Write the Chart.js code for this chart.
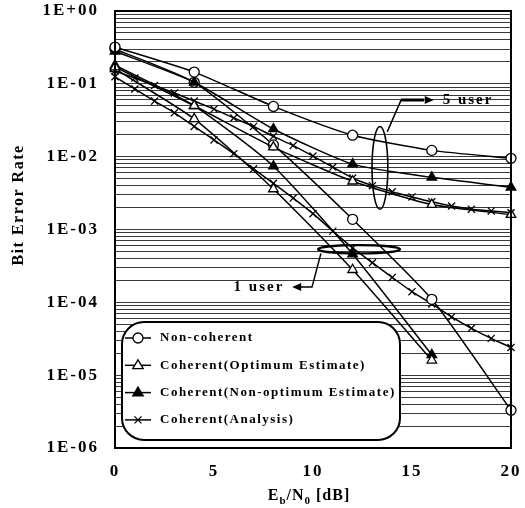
<!DOCTYPE html>
<html>
<head>
<meta charset="utf-8">
<script src="https://cdn.jsdelivr.net/npm/chart.js@4.4.0/dist/chart.umd.min.js"></script>
<style>
  html, body { margin: 0; padding: 0; background: #fff; }
  #wrap { width: 525px; height: 508px; }
</style>
</head>
<body>
<div id="wrap"><canvas id="berChart" width="525" height="508"></canvas></div>
<script>
// Eb/N0 grid of the simulated points and the analysis curves
const snrSim = [0, 4, 8, 12, 16, 20];
const snrSimShort = [0, 4, 8, 12, 16];
const snrAnalysis = [0, 1, 2, 3, 4, 5, 6, 7, 8, 9, 10, 11, 12, 13, 14, 15, 16, 17, 18, 19, 20];

// 5 user
const nonCoh5 = [0.32, 0.145, 0.049, 0.0197, 0.0122, 0.0095];
const optEst5 = [0.17, 0.05, 0.0135, 0.0046, 0.0022, 0.0016];
const nonOptEst5 = [0.28, 0.105, 0.024, 0.0079, 0.0052, 0.0038];
const analysis5 = [0.15, 0.12, 0.095, 0.075, 0.058, 0.045, 0.034, 0.026, 0.019, 0.0142, 0.0102,
  0.0072, 0.0051, 0.0040, 0.0033, 0.0028, 0.0024, 0.0021, 0.0019, 0.0018, 0.0017];

// 1 user
const nonCoh1 = [0.30, 0.105, 0.0145, 0.00138, 0.00011, 0.0000033];
const optEst1 = [0.16, 0.033, 0.0036, 0.00028, 0.000016];
const nonOptEst1 = [0.18, 0.05, 0.0074, 0.00046, 0.000019];
const analysis1 = [0.125, 0.085, 0.058, 0.040, 0.026, 0.017, 0.011, 0.0068, 0.0043, 0.0027, 0.00165,
  0.00095, 0.00056, 0.00035, 0.00022, 0.00014, 0.000095, 0.000063, 0.000044, 0.000032, 0.000024];

const xTickValues = [0, 5, 10, 15, 20];
const yTickValues = [1, 1e-1, 1e-2, 1e-3, 1e-4, 1e-5, 1e-6];
const legendLabels = ['Non-coherent', 'Coherent(Optimum Estimate)', 'Coherent(Non-optimum Estimate)', 'Coherent(Analysis)'];
const groupLabels = ['5 user', '1 user'];

const serif = "'Liberation Serif', 'Times New Roman', serif";

const toPoints = (xs, ys) => ys.map((y, i) => ({ x: xs[i], y }));

// marker style per legend entry
const markerStyles = [
  { pointStyle: 'circle', pointBackgroundColor: '#fff', pointRadius: 5 },
  { pointStyle: 'triangle', pointBackgroundColor: '#fff', pointRadius: 5.5 },
  { pointStyle: 'triangle', pointBackgroundColor: '#000', pointRadius: 5.5 },
  { pointStyle: 'crossRot', pointBackgroundColor: '#fff', pointRadius: 5 }
];

const baseLine = {
  borderColor: '#000',
  borderWidth: 1.5,
  pointBorderColor: '#000',
  pointBorderWidth: 1.3,
  pointHoverRadius: 0,
  tension: 0.2,
  fill: false,
  clip: 8
};

const datasets = [
  { label: legendLabels[0] + ' 5', data: toPoints(snrSim, nonCoh5), ...markerStyles[0] },
  { label: legendLabels[1] + ' 5', data: toPoints(snrSim, optEst5), ...markerStyles[1] },
  { label: legendLabels[2] + ' 5', data: toPoints(snrSim, nonOptEst5), ...markerStyles[2] },
  { label: legendLabels[3] + ' 5', data: toPoints(snrAnalysis, analysis5), ...markerStyles[3] },
  { label: legendLabels[0] + ' 1', data: toPoints(snrSim, nonCoh1), ...markerStyles[0] },
  { label: legendLabels[1] + ' 1', data: toPoints(snrSimShort, optEst1), ...markerStyles[1] },
  { label: legendLabels[2] + ' 1', data: toPoints(snrSimShort, nonOptEst1), ...markerStyles[2] },
  { label: legendLabels[3] + ' 1', data: toPoints(snrAnalysis, analysis1), ...markerStyles[3] }
].map(d => ({ ...baseLine, ...d }));

const expLabel = v => {
  const e = Math.round(Math.log10(v));
  return '1E' + (e >= 0 ? '+' : '-') + String(Math.abs(e)).padStart(2, '0');
};

// draws one marker like the chart does
const drawMarker = (ctx, style, x, y) => {
  const r = style.pointRadius;
  ctx.save();
  ctx.lineWidth = 1.3;
  ctx.strokeStyle = '#000';
  ctx.fillStyle = style.pointBackgroundColor;
  ctx.beginPath();
  if (style.pointStyle === 'circle') {
    ctx.arc(x, y, r, 0, Math.PI * 2);
    ctx.fill();
    ctx.stroke();
  } else if (style.pointStyle === 'triangle') {
    ctx.moveTo(x, y - r);
    ctx.lineTo(x + r * 0.95, y + r * 0.6);
    ctx.lineTo(x - r * 0.95, y + r * 0.6);
    ctx.closePath();
    ctx.fill();
    ctx.stroke();
  } else {
    ctx.moveTo(x - r * 0.7, y - r * 0.7);
    ctx.lineTo(x + r * 0.7, y + r * 0.7);
    ctx.moveTo(x + r * 0.7, y - r * 0.7);
    ctx.lineTo(x - r * 0.7, y + r * 0.7);
    ctx.stroke();
  }
  ctx.restore();
};

const arrowHead = (ctx, x, y, dir) => {
  ctx.beginPath();
  ctx.moveTo(x, y);
  ctx.lineTo(x - dir * 9, y - 4);
  ctx.lineTo(x - dir * 9, y + 4);
  ctx.closePath();
  ctx.fill();
};

const decorPlugin = {
  id: 'decor',
  beforeDraw(chart) {
    const { ctx } = chart;
    ctx.save();
    ctx.fillStyle = '#fff';
    ctx.fillRect(0, 0, chart.width, chart.height);
    ctx.restore();
    ctx.letterSpacing = '2px';
  },
  afterDatasetsDraw(chart) {
    const { ctx, chartArea: ca } = chart;
    const xs = chart.scales.x, ys = chart.scales.y;
    const px = v => xs.getPixelForValue(v);
    const py = v => ys.getPixelForValue(v);

    ctx.save();
    ctx.strokeStyle = '#000';
    ctx.fillStyle = '#000';

    // 5 user ellipse + arrow
    const e5 = { x0: 12.98, x1: 13.78, y0: 0.026, y1: 0.0019 };
    ctx.lineWidth = 1.6;
    ctx.beginPath();
    ctx.ellipse((px(e5.x0) + px(e5.x1)) / 2, (py(e5.y0) + py(e5.y1)) / 2,
      (px(e5.x1) - px(e5.x0)) / 2, (py(e5.y1) - py(e5.y0)) / 2, 0, 0, Math.PI * 2);
    ctx.stroke();
    ctx.beginPath();
    ctx.moveTo(px(13.75), py(0.022));
    ctx.lineTo(px(14.45), py(0.06));
    ctx.lineTo(px(15.6), py(0.06));
    ctx.stroke();
    ctx.lineWidth = 3;
    ctx.beginPath();
    ctx.moveTo(px(14.45), py(0.06));
    ctx.lineTo(px(15.6), py(0.06));
    ctx.stroke();
    arrowHead(ctx, px(16.1), py(0.06), 1);

    // 1 user ellipse + arrow
    const e1 = { x0: 10.25, x1: 14.4, y0: 0.00061, y1: 0.00047 };
    ctx.lineWidth = 2.2;
    ctx.beginPath();
    ctx.ellipse((px(e1.x0) + px(e1.x1)) / 2, (py(e1.y0) + py(e1.y1)) / 2,
      (px(e1.x1) - px(e1.x0)) / 2, (py(e1.y1) - py(e1.y0)) / 2, 0, 0, Math.PI * 2);
    ctx.stroke();
    ctx.lineWidth = 1.5;
    ctx.beginPath();
    ctx.moveTo(px(10.4), py(0.00047));
    ctx.lineTo(px(9.95), py(0.000162));
    ctx.lineTo(px(9.2), py(0.000162));
    ctx.stroke();
    arrowHead(ctx, px(8.95), py(0.000162), -1);

    ctx.font = 'bold 15px ' + serif;
    ctx.letterSpacing = '2px';
    ctx.textBaseline = 'middle';
    ctx.textAlign = 'left';
    ctx.fillText(groupLabels[0], px(16.55), py(0.06));
    ctx.textAlign = 'right';
    ctx.fillText(groupLabels[1], px(8.55), py(0.000162));

    // legend box
    const lx = ca.left + 7, ly = ca.bottom - 126, lw = 278, lh = 118, rr = 22;
    ctx.beginPath();
    ctx.roundRect(lx, ly, lw, lh, rr);
    ctx.fillStyle = '#fff';
    ctx.fill();
    ctx.lineWidth = 2;
    ctx.stroke();
    ctx.fillStyle = '#000';
    ctx.font = 'bold 13px ' + serif;
    ctx.letterSpacing = '1.5px';
    ctx.textAlign = 'left';
    legendLabels.forEach((label, i) => {
      const yy = ly + 16 + i * 27.3;
      ctx.lineWidth = 1.5;
      ctx.beginPath();
      ctx.moveTo(lx + 3, yy);
      ctx.lineTo(lx + 29, yy);
      ctx.stroke();
      drawMarker(ctx, markerStyles[i], lx + 16, yy);
      ctx.fillText(label, lx + 38, yy);
    });

    // plot frame
    ctx.lineWidth = 2;
    ctx.strokeRect(ca.left, ca.top, ca.right - ca.left, ca.bottom - ca.top);
    ctx.restore();
  },
  afterDraw(chart) {
    const { ctx, chartArea: ca } = chart;
    ctx.save();
    ctx.fillStyle = '#000';
    // y title
    ctx.translate(19, 205);
    ctx.rotate(-Math.PI / 2);
    ctx.font = 'bold 16px ' + serif;
    ctx.letterSpacing = '1.5px';
    ctx.textAlign = 'center';
    ctx.textBaseline = 'middle';
    ctx.fillText('Bit Error Rate', 0, 0);
    ctx.restore();

    // x title with subscripts
    ctx.save();
    ctx.fillStyle = '#000';
    ctx.textBaseline = 'alphabetic';
    ctx.textAlign = 'left';
    ctx.letterSpacing = '1px';
    const parts = [
      ['E', 16, 0], ['b', 11, 4], ['/N', 16, 0], ['0', 11, 4], [' [dB]', 16, 0]
    ];
    let total = 0;
    parts.forEach(p => { ctx.font = 'bold ' + p[1] + 'px ' + serif; total += ctx.measureText(p[0]).width; });
    let cx = (ca.left + ca.right) / 2 - 4 - total / 2;
    const base = 500;
    parts.forEach(p => {
      ctx.font = 'bold ' + p[1] + 'px ' + serif;
      ctx.fillText(p[0], cx, base + p[2]);
      cx += ctx.measureText(p[0]).width;
    });
    ctx.restore();
    ctx.letterSpacing = '0px';
  }
};

new Chart(document.getElementById('berChart').getContext('2d'), {
  type: 'line',
  data: { datasets },
  options: {
    responsive: false,
    animation: false,
    layout: { autoPadding: false, padding: { top: 11, right: 14, left: 0, bottom: 0 } },
    plugins: {
      legend: { display: false },
      tooltip: { enabled: false }
    },
    scales: {
      x: {
        type: 'linear',
        min: 0,
        max: 20,
        afterBuildTicks: s => { s.ticks = xTickValues.map(v => ({ value: v })); },
        afterFit: s => { s.height = 60; s.paddingLeft = 0; s.paddingRight = 0; },
        grid: { display: false, drawTicks: false },
        border: { display: true, color: '#000', width: 2 },
        ticks: {
          color: '#000',
          padding: 13,
          autoSkip: false,
          maxRotation: 0,
          font: { family: serif, size: 17, weight: 'bold' }
        }
      },
      y: {
        type: 'logarithmic',
        min: 1e-6,
        max: 1,
        afterBuildTicks: s => {
          const t = [];
          yTickValues.forEach(d => {
            t.push({ value: d, major: true });
            if (d > 1e-6) for (let k = 2; k <= 9; k++) t.push({ value: d * k / 10 });
          });
          s.ticks = t.sort((a, b) => a.value - b.value);
        },
        afterFit: s => { s.width = 115; s.paddingTop = 0; s.paddingBottom = 0; },
        grid: {
          color: '#3a3a3a',
          lineWidth: 1,
          drawTicks: false
        },
        border: { display: true, color: '#000', width: 2 },
        ticks: {
          color: '#000',
          padding: 16,
          autoSkip: false,
          font: { family: serif, size: 17, weight: 'bold' },
          callback: v => (yTickValues.some(d => Math.abs(d - v) / d < 1e-6) ? expLabel(v) : '')
        }
      }
    }
  },
  plugins: [decorPlugin]
});
</script>
</body>
</html>
